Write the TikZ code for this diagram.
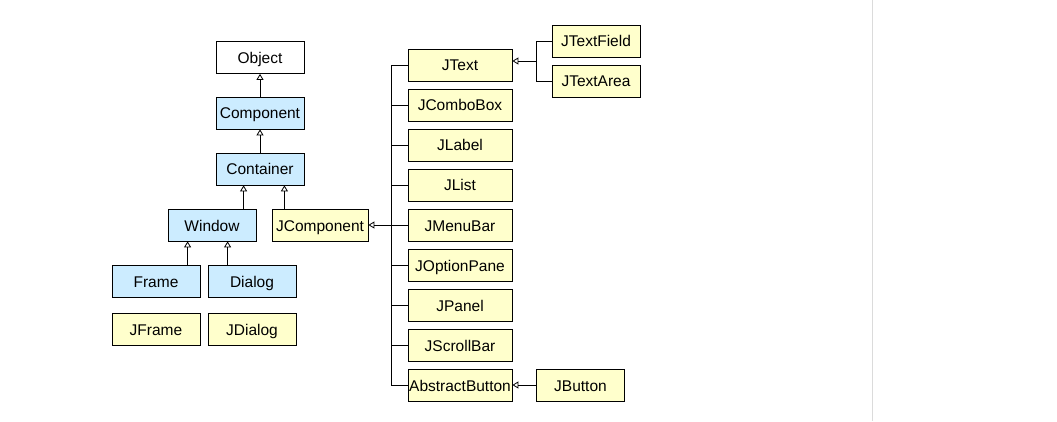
\documentclass[tikz,border=0pt]{standalone}
\usepackage{fontspec}
\setmainfont{Liberation Sans}
\usetikzlibrary{arrows.meta}
\definecolor{classblue}{RGB}{204,236,255}
\definecolor{classyellow}{RGB}{255,255,204}
\begin{document}
\begin{tikzpicture}[x=1pt,y=-1pt,
    box/.style={draw,line width=.8pt,minimum width=88,minimum height=32,inner sep=0pt,
        text height=13pt,text depth=1pt,font=\fontsize{15.5}{18}\selectfont},
    awt/.style={box,fill=classblue},
    swing/.style={box,fill=classyellow},
    inh/.style={-{Triangle[open,length=6pt,width=7pt]},line width=.8pt}]
    \useasboundingbox (0,0) rectangle (1057,422);
    \draw[line width=1pt,black!14] (872,0)--(872,421);
    % awt side
    \node[box,fill=white] (object) at (260,57.5) {Object};
    \node[awt] (component) at (260,113) {Component};
    \node[awt] (container) at (260,169) {Container};
    \node[awt] (window) at (212,225) {Window};
    \node[swing,minimum width=96] (jcomponent) at (320,225) {JComponent};
    \node[awt] (frame) at (156,281) {Frame};
    \node[awt] (dialog) at (252,281) {Dialog};
    \node[swing] (jframe) at (156,329) {JFrame};
    \node[swing] (jdialog) at (252,329) {JDialog};
    \draw[inh] (component) -- (object);
    \draw[inh] (container) -- (component);
    \draw[inh] ([xshift=28]container.south west |- window.north) -- ([xshift=28]container.south west);
    \draw[inh] ([xshift=-20]container.south east |- jcomponent.north) -- ([xshift=-20]container.south east);
    \draw[inh] ([xshift=20]window.south west |- frame.north) -- ([xshift=20]window.south west);
    \draw[inh] ([xshift=60]window.south west |- dialog.north) -- ([xshift=60]window.south west);
    % swing side
    \node[swing,minimum width=104] (jtext) at (460,65) {JText};
    \node[swing,minimum width=104] (jcombobox) at (460,105) {JComboBox};
    \node[swing,minimum width=104] (jlabel) at (460,145) {JLabel};
    \node[swing,minimum width=104] (jlist) at (460,185) {JList};
    \node[swing,minimum width=104] (jmenubar) at (460,225) {JMenuBar};
    \node[swing,minimum width=104] (joptionpane) at (460,265) {JOptionPane};
    \node[swing,minimum width=104] (jpanel) at (460,305) {JPanel};
    \node[swing,minimum width=104] (jscrollbar) at (460,345) {JScrollBar};
    \node[swing,minimum width=104] (abstractbutton) at (460,385) {AbstractButton};
    \node[swing] (jtextfield) at (596,41) {JTextField};
    \node[swing] (jtextarea) at (596,81) {JTextArea};
    \node[swing] (jbutton) at (580.5,385) {JButton};
    \draw[line width=.8pt] (jtext.west) -- ++(-16,0) |- (abstractbutton.west);
    \foreach \n in {jcombobox,jlabel,jlist,jmenubar,joptionpane,jpanel,jscrollbar}
        \draw[line width=.8pt] (\n.west) -- ++(-16,0);
    \coordinate (trunk) at ([xshift=-16]jmenubar.west);
    \draw[inh] (trunk) -- (jcomponent.east);
    \draw[line width=.8pt] (jtextfield.west) -- ++(-15,0) |- (jtextarea.west);
    \coordinate (tbranch) at ([xshift=-15]jtextfield.west |- 0,61);
    \draw[inh] (tbranch) -- (jtext.east |- tbranch);
    \draw[inh] (jbutton) -- (abstractbutton);
\end{tikzpicture}
\end{document}
